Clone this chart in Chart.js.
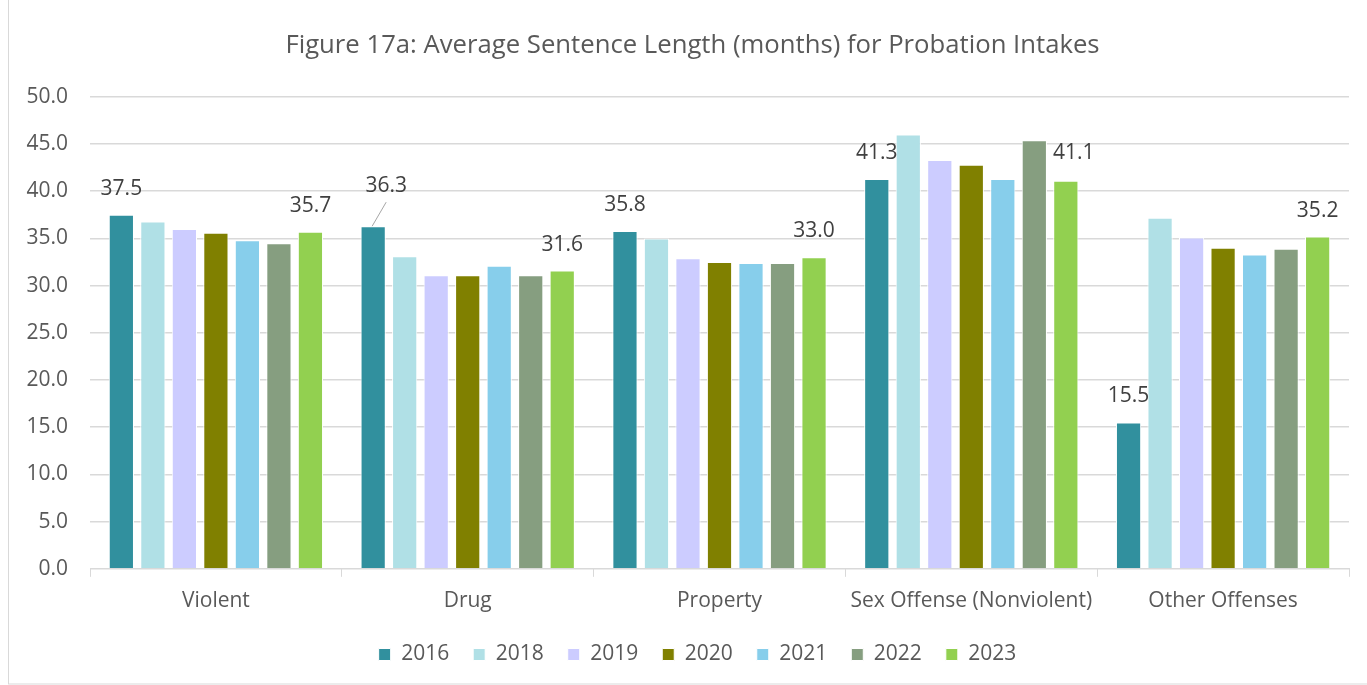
<!DOCTYPE html>
<html>
<head>
<meta charset="utf-8">
<script src="https://cdn.jsdelivr.net/npm/chart.js@4.4.1/dist/chart.umd.min.js"></script>
<style>
  html, body { margin: 0; padding: 0; background: #fff; }
  #wrap { position: relative; width: 1367px; height: 685px; }
</style>
</head>
<body>
<div id="wrap"><canvas id="myChart" width="1367" height="685"></canvas></div>
<script>
// Chart data
const categories = ['Violent', 'Drug', 'Property', 'Sex Offense (Nonviolent)', 'Other Offenses'];
const years = ['2016', '2018', '2019', '2020', '2021', '2022', '2023'];
const v2016 = [37.5, 36.3, 35.8, 41.3, 15.5];
const v2018 = [36.8, 33.1, 35.0, 46.0, 37.2];
const v2019 = [36.0, 31.1, 32.9, 43.3, 35.1];
const v2020 = [35.6, 31.1, 32.5, 42.8, 34.0];
const v2021 = [34.8, 32.1, 32.4, 41.3, 33.3];
const v2022 = [34.5, 31.1, 32.4, 45.4, 33.9];
const v2023 = [35.7, 31.6, 33.0, 41.1, 35.2];
const yTicks = [0, 5, 10, 15, 20, 25, 30, 35, 40, 45, 50];

const colors = ['#31909E', '#B0E0E6', '#CCCCFF', '#808000', '#87CEEB', '#869E80', '#92D050'];
const seriesValues = [v2016, v2018, v2019, v2020, v2021, v2022, v2023];
const FONT = '"Open Sans", sans-serif';

// draws value labels on the 2016 and 2023 bars, like the Excel original
const barLabels = {
    id: 'barLabels',
    afterDatasetsDraw(chart, args, opts){
        const ctx = chart.ctx;
        ctx.save();
        ctx.font = '21px ' + FONT;
        ctx.fillStyle = '#404040';
        ctx.textAlign = 'center';
        ctx.textBaseline = 'middle';
        for(const di of opts.datasets){
            const meta = chart.getDatasetMeta(di);
            meta.data.forEach((bar, i) => {
                const val = chart.data.datasets[di].data[i];
                let x = bar.x, y = bar.y - 26;
                const moved = opts.moved.find(m => m.ds === di && m.idx === i);
                if(moved){
                    x += moved.dx; y += moved.dy;
                    if(moved.line){
                        ctx.strokeStyle = '#a6a6a6';
                        ctx.lineWidth = 1;
                        ctx.beginPath();
                        ctx.moveTo(bar.x - 1, bar.y);
                        ctx.lineTo(x, y + 16);
                        ctx.stroke();
                    }
                }
                ctx.fillText(val.toFixed(1), x, y);
            });
        }
        ctx.restore();
    }
};

// light frame round the chart, and nudge title/legend to where Excel puts them
const frame = {
    id: 'frame',
    afterLayout(chart){
        chart.legend.left += 16;
        chart.legend.right += 16;
        chart.titleBlock.left += 11;
        chart.titleBlock.right += 11;
    },
    beforeDraw(chart){
        const ctx = chart.ctx;
        ctx.save();
        ctx.fillStyle = '#fff';
        ctx.fillRect(0, 0, chart.width, chart.height);
        ctx.strokeStyle = '#d9d9d9';
        ctx.lineWidth = 1;
        ctx.strokeRect(8.5, -1, chart.width, chart.height);
        ctx.restore();
    }
};

document.addEventListener('DOMContentLoaded', function () {
    const ctx = document.getElementById('myChart').getContext('2d');
    new Chart(ctx, {
        type: 'bar',
        data: {
            labels: categories,
            datasets: years.map((y, i) => ({
                label: y,
                data: seriesValues[i],
                backgroundColor: colors[i],
                borderColor: '#ffffff',
                borderWidth: 1,
                categoryPercentage: 0.876,
                barPercentage: 0.8
            }))
        },
        options: {
            responsive: false,
            animation: false,
            layout: { padding: { left: 14, right: 18, top: 22, bottom: 10 } },
            plugins: {
                title: {
                    display: true,
                    text: 'Figure 17a: Average Sentence Length (months) for Probation Intakes',
                    color: '#595959',
                    font: { family: FONT, size: 25.7, weight: 'normal' },
                    padding: { top: 8, bottom: 36 }
                },
                legend: {
                    position: 'bottom',
                    labels: {
                        color: '#595959',
                        font: { family: FONT, size: 21 },
                        boxWidth: 12,
                        boxHeight: 12,
                        padding: 24
                    }
                },
                tooltip: { enabled: false },
                barLabels: {
                    datasets: [0, 6],
                    moved: [
                        { ds: 0, idx: 1, dx: 13, dy: -14, line: true },
                        { ds: 6, idx: 3, dx: 8, dy: -2, line: false }
                    ]
                }
            },
            scales: {
                x: {
                    afterFit(axis){ axis.height -= 6; },
                    grid: { display: true, drawOnChartArea: false, drawTicks: true, tickLength: 8, color: '#d9d9d9', offset: true },
                    border: { color: '#d9d9d9' },
                    ticks: { color: '#595959', font: { family: FONT, size: 21 }, padding: 12 }
                },
                y: {
                    min: 0,
                    max: 50,
                    afterBuildTicks(axis){ axis.ticks = yTicks.map(v => ({ value: v })); },
                    afterFit(axis){ axis.width = 76; },
                    grid: { color: '#d9d9d9', drawTicks: false, lineWidth: 1.5 },
                    border: { display: false },
                    ticks: {
                        color: '#595959',
                        font: { family: FONT, size: 21 },
                        padding: 22,
                        callback: v => v.toFixed(1)
                    }
                }
            }
        },
        plugins: [frame, barLabels]
    });
});
</script>
</body>
</html>
